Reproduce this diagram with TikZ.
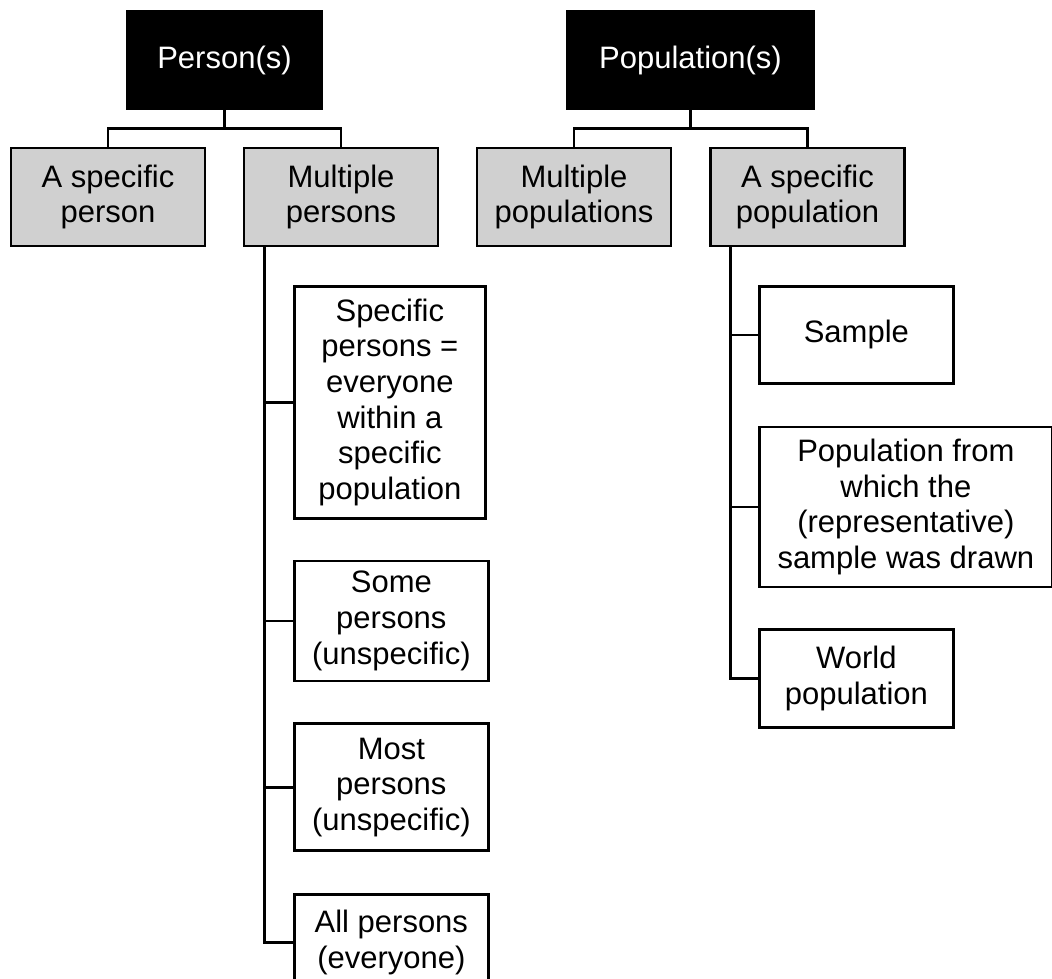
\documentclass[tikz,border=0pt]{standalone}
\usepackage{fontspec}
\setmainfont{Liberation Sans}
\usepackage{tikz}
\usetikzlibrary{positioning}

\definecolor{boxgray}{HTML}{D0D0D0}

\begin{document}
\begin{tikzpicture}[
    x=1pt, y=1pt,
    box/.style={rectangle, draw, line width=2.7pt, inner sep=0pt,
                minimum width=194pt, minimum height=98pt,
                font=\fontsize{31}{35.7}\selectfont, align=center},
    rootbox/.style={box, fill=black, text=white},
    catbox/.style={box, fill=boxgray},
    leafbox/.style={box, fill=white},
    link/.style={line width=2.7pt}
]
\useasboundingbox (0,0) rectangle (1052,-978);
\clip (0,0) rectangle (1052,-978);

%% ── Top level ───────────────────────────────────────────────────────────────
\node[rootbox, minimum width=195pt] (persons) at (224.5,-60) {Person(s)};
\node[rootbox, minimum width=247pt] (pops)    at (690.5,-60) {Population(s)};

%% ── Second level ────────────────────────────────────────────────────────────
\node[catbox] (oneperson)   at (108,-197)   {A specific\\person};
\node[catbox] (multpersons) at (341,-197)   {Multiple\\persons};
\node[catbox] (multpops)    at (574,-197)   {Multiple\\populations};
\node[catbox] (onepop)      at (807.5,-197) {A specific\\population};

\draw[link] (persons.south) -- ++(0,-18) -| (oneperson.north);
\draw[link] (persons.south) -- ++(0,-18) -| (multpersons.north);
\draw[link] (pops.south)    -- ++(0,-18) -| (multpops.north);
\draw[link] (pops.south)    -- ++(0,-18) -| (onepop.north);

%% ── Multiple persons ────────────────────────────────────────────────────────
\node[leafbox, anchor=north west, minimum width=191pt, minimum height=232pt]
      (everyone) at (293,-285)
      {Specific\\persons =\\everyone\\within a\\specific\\population};
\node[leafbox, below=40pt of everyone.south west, anchor=north west,
      minimum height=120pt] (somep)
      {Some\\persons\\(unspecific)};
\node[leafbox, below=40pt of somep.south west, anchor=north west,
      minimum height=127pt] (mostp)
      {Most\\persons\\(unspecific)};
\node[leafbox, below=41pt of mostp.south west, anchor=north west,
      minimum height=96pt] (allp)
      {All persons\\(everyone)};

\draw[link] ([xshift=22pt]multpersons.south west) |- (everyone.west);
\draw[link] ([xshift=22pt]multpersons.south west) |- (somep.west);
\draw[link] ([xshift=22pt]multpersons.south west) |- (mostp.west);
\draw[link] ([xshift=22pt]multpersons.south west) |- (allp.west);

%% ── A specific population ───────────────────────────────────────────────────
\node[leafbox, anchor=north west, minimum height=97pt]
      (sample) at (758,-285) {Sample};
\node[leafbox, below=41pt of sample.south west, anchor=north west,
      minimum width=293pt, minimum height=160pt] (popfrom)
      {Population from\\which the\\(representative)\\sample was drawn};
\node[leafbox, below=40pt of popfrom.south west, anchor=north west,
      minimum height=98pt] (world)
      {World\\population};

\draw[link] ([xshift=21.5pt]onepop.south west) |- (sample.west);
\draw[link] ([xshift=21.5pt]onepop.south west) |- (popfrom.west);
\draw[link] ([xshift=21.5pt]onepop.south west) |- (world.west);

\end{tikzpicture}
\end{document}
